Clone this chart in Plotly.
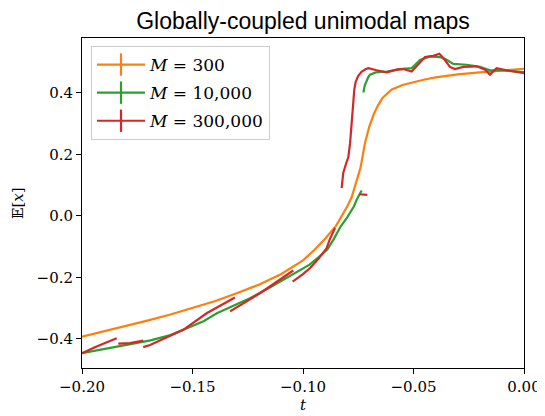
import plotly.graph_objects as go

# ---------------- data ----------------
t_m300 = [-0.2, -0.19, -0.18, -0.17, -0.16, -0.15, -0.14, -0.13, -0.12, -0.11,
          -0.1, -0.095, -0.09, -0.085, -0.08, -0.078, -0.076, -0.074, -0.072,
          -0.07, -0.068, -0.066, -0.064, -0.062, -0.06, -0.055, -0.05, -0.045,
          -0.04, -0.03, -0.02, -0.01, 0.0]
e_m300 = [-0.393, -0.376, -0.358, -0.340, -0.321, -0.300, -0.278, -0.252, -0.224,
          -0.19, -0.145, -0.112, -0.075, -0.032, 0.03, 0.06, 0.105, 0.155, 0.235,
          0.29, 0.33, 0.36, 0.383, 0.398, 0.41, 0.425, 0.435, 0.443, 0.45, 0.46,
          0.466, 0.472, 0.478]

# M = 10,000 : two pieces
t_m10k_a = [-0.2, -0.19, -0.18, -0.169, -0.16, -0.154, -0.145, -0.139, -0.13,
            -0.124, -0.115, -0.109, -0.1, -0.097, -0.093, -0.089, -0.086, -0.083,
            -0.08, -0.0787, -0.077, -0.0757, -0.0745, -0.0735]
e_m10k_a = [-0.447, -0.434, -0.42, -0.405, -0.388, -0.371, -0.343, -0.317, -0.287,
            -0.268, -0.233, -0.208, -0.172, -0.159, -0.135, -0.11, -0.075, -0.035,
            -0.005, 0.009, 0.03, 0.052, 0.068, 0.082]
t_m10k_b = [-0.0727, -0.072, -0.0705, -0.0697, -0.067, -0.0621, -0.0561, -0.0508,
            -0.047, -0.0425, -0.038, -0.035, -0.032, -0.0259, -0.0199, -0.0154,
            -0.01, -0.005, 0.0]
e_m10k_b = [0.401, 0.425, 0.45, 0.459, 0.466, 0.469, 0.477, 0.48, 0.507, 0.518,
            0.516, 0.507, 0.494, 0.491, 0.484, 0.473, 0.473, 0.47, 0.467]

# M = 300,000 : several pieces
t_m300k_1 = [-0.2, -0.1934, -0.1843]
e_m300k_1 = [-0.447, -0.425, -0.398]
t_m300k_2 = [-0.1836, -0.1783, -0.1723]
e_m300k_2 = [-0.416, -0.414, -0.406]
t_m300k_3 = [-0.1723, -0.1692, -0.1542, -0.1436, -0.1308]
e_m300k_3 = [-0.427, -0.42, -0.371, -0.317, -0.266]
t_m300k_4 = [-0.133, -0.1195, -0.1044]
e_m300k_4 = [-0.311, -0.252, -0.178]
t_m300k_5 = [-0.1047, -0.1, -0.0968, -0.093, -0.0893, -0.0878, -0.0855]
e_m300k_5 = [-0.214, -0.19, -0.17, -0.14, -0.105, -0.075, -0.04]
t_m300k_6 = [-0.0745, -0.0709]
e_m300k_6 = [0.070, 0.068]
t_m300k_7 = [-0.0825, -0.0818, -0.0805, -0.0795, -0.0787, -0.078, -0.0775, -0.0768,
             -0.0762, -0.075, -0.0734, -0.0715, -0.0704, -0.0667, -0.0621, -0.0576,
             -0.0546, -0.0508, -0.0478, -0.0448, -0.041, -0.0383, -0.0365, -0.0335,
             -0.0312, -0.0275, -0.0214, -0.0176, -0.0154, -0.0139, -0.0124, -0.0078, 0.0]
e_m300k_7 = [0.09, 0.139, 0.17, 0.19, 0.236, 0.29, 0.345, 0.41, 0.435, 0.455, 0.469,
             0.477, 0.48, 0.473, 0.466, 0.475, 0.477, 0.469, 0.491, 0.516, 0.52, 0.527,
             0.513, 0.484, 0.477, 0.484, 0.486, 0.475, 0.459, 0.469, 0.48, 0.473, 0.464]

legend_labels = ["<i>M</i> = 300", "<i>M</i> = 10,000", "<i>M</i> = 300,000"]
x_ticks = [-0.20, -0.15, -0.10, -0.05, 0.00]
y_ticks = [-0.4, -0.2, 0.0, 0.2, 0.4]

# ---------------- styles ----------------
ORANGE = "#ff7f0e"
GREEN = "#2ca02c"
RED = "#d62728"
LW = 2.2

# the page body has an 8 px margin, so the figure is drawn 8 px smaller
FIG_W, FIG_H = 537, 408
PLOT_W, PLOT_H = 442, 330


def join(*pieces):
    xs, ys = [], []
    for i in range(0, len(pieces), 2):
        if xs:
            xs.append(None)
            ys.append(None)
        xs.extend(pieces[i])
        ys.extend(pieces[i + 1])
    return xs, ys


fig = go.Figure()

x, y = join(t_m300, e_m300)
fig.add_trace(go.Scatter(x=x, y=y, mode="lines", line=dict(color=ORANGE, width=LW),
                         showlegend=False))
x, y = join(t_m10k_a, e_m10k_a, t_m10k_b, e_m10k_b)
fig.add_trace(go.Scatter(x=x, y=y, mode="lines", line=dict(color=GREEN, width=LW),
                         showlegend=False, connectgaps=False))
x, y = join(t_m300k_1, e_m300k_1, t_m300k_2, e_m300k_2, t_m300k_3, e_m300k_3,
            t_m300k_4, e_m300k_4, t_m300k_5, e_m300k_5, t_m300k_6, e_m300k_6,
            t_m300k_7, e_m300k_7)
fig.add_trace(go.Scatter(x=x, y=y, mode="lines", line=dict(color=RED, width=LW),
                         showlegend=False, connectgaps=False))

# legend handles (line + error-bar cross)
for i, (lab, col) in enumerate(zip(legend_labels, [ORANGE, GREEN, RED])):
    fig.add_trace(go.Scatter(x=[None], y=[None], mode="lines+markers", name=lab,
                             legendgroup=f"g{i}",
                             line=dict(color=col, width=LW),
                             marker=dict(symbol="line-ns", size=20,
                                         line=dict(color=col, width=LW))))

axis_common = dict(showline=True, linecolor="black", linewidth=1, mirror=True,
                   ticks="outside", ticklen=5, tickwidth=1, tickcolor="black",
                   showgrid=False, zeroline=False, automargin=False,
                   tickfont=dict(family="DejaVu Serif", size=15, color="black"))

fig.update_xaxes(range=[-0.2, 0.0], tickvals=x_ticks, tickformat=".2f", **axis_common)
fig.update_yaxes(range=[-0.495, 0.578], tickvals=y_ticks, tickformat=".1f", **axis_common)

fig.update_layout(
    width=FIG_W, height=FIG_H,
    margin=dict(l=74, r=21, t=30, b=48, autoexpand=False),
    paper_bgcolor="white", plot_bgcolor="white",
    title=dict(text="Globally-coupled unimodal maps", x=0.5, xref="paper",
               xanchor="center", y=1 - 5 / FIG_H, yanchor="top", pad=dict(t=0, b=0),
               font=dict(family="Liberation Sans", size=23, color="black")),
    legend=dict(x=9 / PLOT_W, y=1 - 8 / PLOT_H, xanchor="left", yanchor="top",
                bgcolor="rgba(255,255,255,0.8)", bordercolor="#cccccc", borderwidth=1,
                font=dict(family="DejaVu Serif", size=17, color="black"),
                itemwidth=48, tracegroupgap=3),
    annotations=[
        dict(text="𝔼[<i>x</i>]", xref="paper", yref="paper", x=-(82 - 18) / PLOT_W, y=0.5,
             xanchor="center", yanchor="middle", textangle=-90, showarrow=False,
             font=dict(family="DejaVu Serif", size=15, color="black")),
        dict(text="<i>t</i>", xref="paper", yref="paper", x=0.5, y=-(405 - 368) / PLOT_H,
             xanchor="center", yanchor="middle", showarrow=False,
             font=dict(family="DejaVu Serif", size=15, color="black")),
    ],
)

fig.write_html("out.html")
